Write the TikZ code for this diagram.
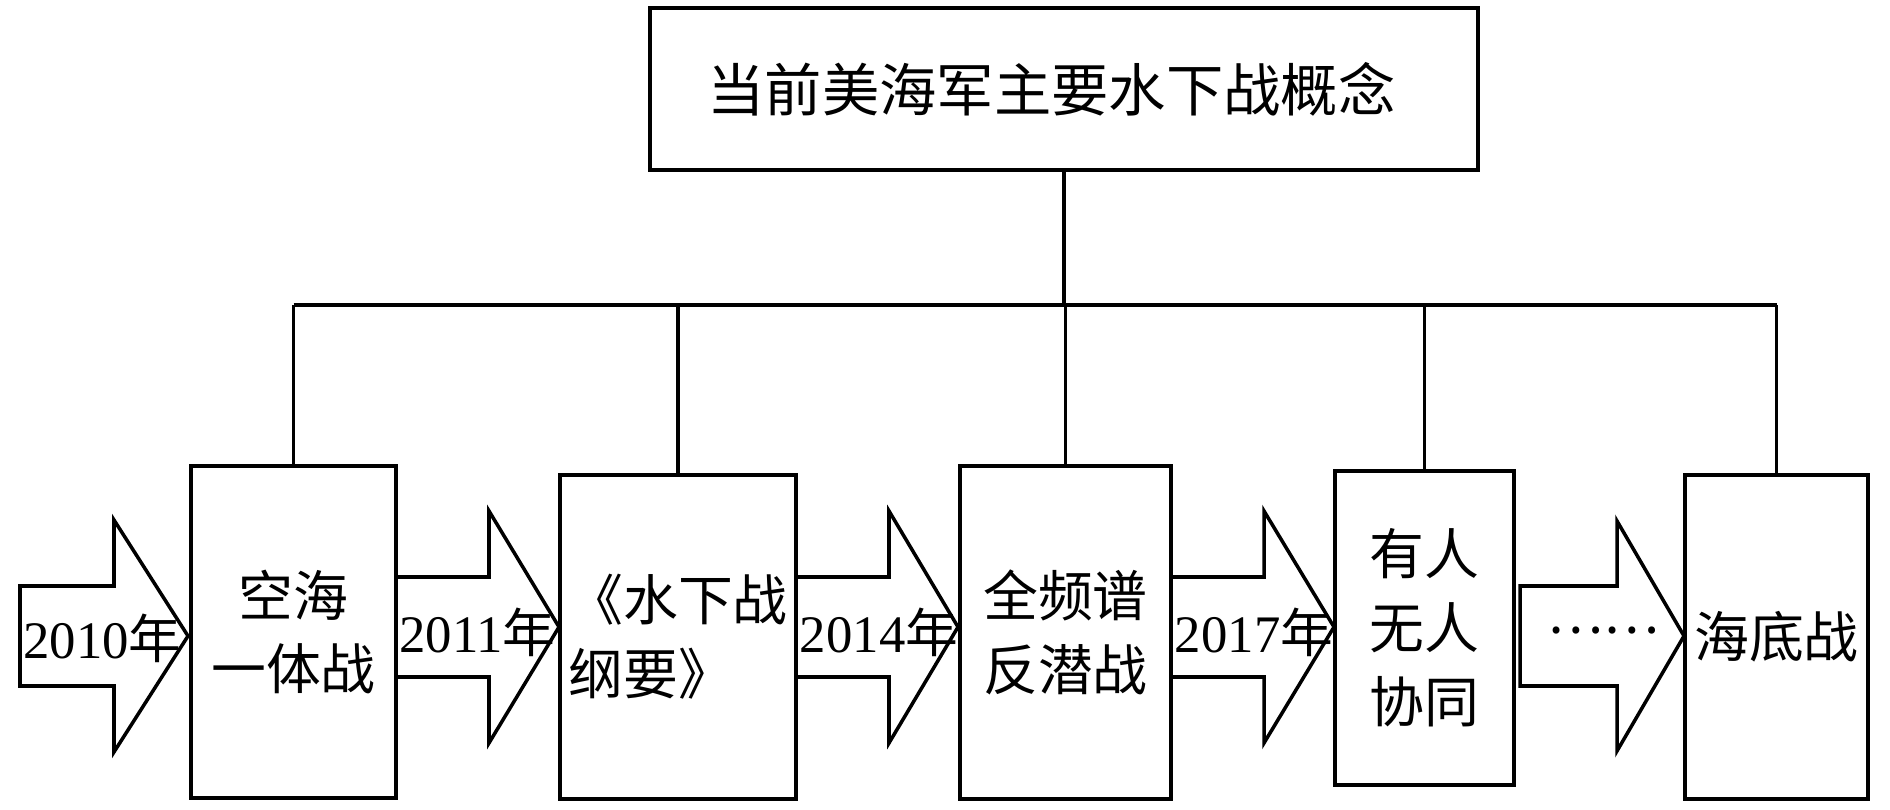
\documentclass[tikz,border=0pt]{standalone}
\usepackage{fontspec}
\setmainfont{Liberation Serif}
\newfontfamily\cjk{Noto Sans CJK SC}
\newcommand\blockarr[6]{% x0 x1 x2 yc shaft-half head-half
  \draw[blockarrow] (#1,#4-#5) -- (#2,#4-#5) -- (#2,#4-#6) -- (#3,#4) -- (#2,#4+#6) -- (#2,#4+#5) -- (#1,#4+#5) -- cycle;}
\begin{document}
\begin{tikzpicture}[x=0.01cm,y=-0.01cm,
  box/.style={draw, line width=1.1pt, inner sep=0pt, align=center, font=\cjk\fontsize{15.6}{21}\selectfont},
  link/.style={line width=1pt},
  blockarrow/.style={draw, line width=1pt, line join=miter, fill=white},
  yearlbl/.style={inner sep=0pt, anchor=base, font=\fontsize{15}{18}\selectfont}]
\useasboundingbox (0,0) rectangle (1890,810);

% block arrows
\blockarr{20}{114}{188}{636}{50}{116}
\blockarr{396}{489}{559}{627}{50}{116}
\blockarr{796}{889}{958}{627}{50}{116}
\blockarr{1171}{1264}{1334}{627}{50}{116}
\blockarr{1520}{1617}{1684}{636}{50}{115}

% boxes
\node[box, minimum width=8.28cm, minimum height=1.62cm, font=\cjk\fontsize{16.3}{20}\selectfont] (top) at (1064,89) {当前美海军主要水下战概念\kern 0.25cm};
\node[box, minimum width=2.05cm, minimum height=3.32cm] (b1) at (293.5,632) {空海\\一体战};
\node[box, align=left, minimum width=2.36cm, minimum height=3.24cm] (b2) at (678,637) {《水下战\\纲要》};
\node[box, minimum width=2.11cm, minimum height=3.33cm] (b3) at (1065.5,632.5) {全频谱\\反潜战};
\node[box, minimum width=1.79cm, minimum height=3.14cm] (b4) at (1424.5,628) {有人\\无人\\协同};
\node[box, minimum width=1.83cm, minimum height=3.24cm] (b5) at (1776.5,637) {海底战};

% labels on arrows
\node[yearlbl] (y2010) at (102.5,659) {2010{\cjk 年}};
\node[yearlbl] (y2011) at (477.5,653) {2011{\cjk 年}};
\node[yearlbl] (y2014) at (879,653) {2014{\cjk 年}};
\node[yearlbl] (y2017) at (1254,653) {2017{\cjk 年}};
\node[inner sep=0pt, font=\cjk\fontsize{15}{18}\selectfont] (dots) at (1603,631) {……};

% connectors
\coordinate (bus) at (0,305);
\draw[link] (top.south) -- (top.south |- bus);
\draw[link] (b1.north |- bus) -- (b5.north |- bus);
\foreach \b in {b1,b2,b3,b4,b5}
  \draw[link] (\b.north) -- (\b.north |- bus);
\end{tikzpicture}
\end{document}
